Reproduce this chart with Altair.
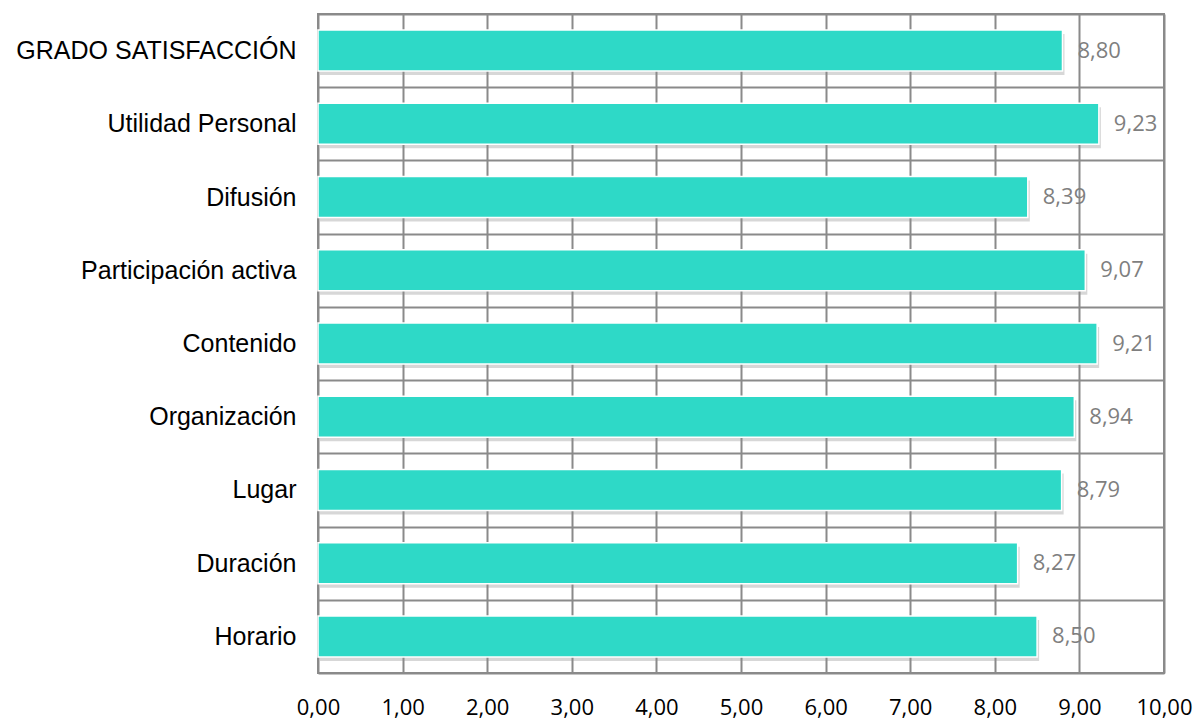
import altair as alt
import pandas as pd

categories = ["GRADO SATISFACCIÓN", "Utilidad Personal", "Difusión", "Participación activa",
              "Contenido", "Organización", "Lugar", "Duración", "Horario"]
values = [8.80, 9.23, 8.39, 9.07, 9.21, 8.94, 8.79, 8.27, 8.50]
x_ticks = [0, 1, 2, 3, 4, 5, 6, 7, 8, 9, 10]

df = pd.DataFrame({"cat": categories, "val": values})
df["lab"] = [f"{v:.2f}".replace(".", ",") for v in values]

y = alt.Y("cat:N", sort=categories, title=None,
          scale=alt.Scale(paddingInner=0, paddingOuter=0),
          axis=alt.Axis(tickBand="extent", grid=True, gridColor="#8a8a8a", gridWidth=2,
                        ticks=False, domain=False, labelFont="Liberation Sans",
                        labelFontSize=25, labelColor="#000000", labelPadding=22,
                        labelLimit=400))
x = alt.X("val:Q", title=None, scale=alt.Scale(domain=[0, 10], nice=False),
          axis=alt.Axis(values=x_ticks, grid=True, gridColor="#8a8a8a", gridWidth=2,
                        ticks=False, domain=False, labelFlush=False,
                        labelExpr="replace(format(datum.value, '.2f'), '.', ',')",
                        labelFont="Open Sans", labelFontSize=22, labelColor="#000000",
                        labelPadding=24))

base = alt.Chart(df)

shadow = base.mark_bar(height={"band": 0.56}, color="#8c8c8c", opacity=0.35,
                       yOffset=4, xOffset=2).encode(x=x, y=y)
bars = base.mark_bar(height={"band": 0.56}, color="#2ed9c7", stroke="#ffffff",
                     strokeWidth=1.5).encode(x=x, y=y)
labels = base.mark_text(align="left", baseline="middle", dx=15, font="Open Sans",
                        fontSize=22, color="#7f7f7f").encode(x=x, y=y, text="lab:N")

chart = (shadow + bars + labels).properties(
    width=846, height=659,
    autosize=alt.AutoSizeParams(type="none"),
    padding={"left": 310, "top": 6, "right": 30, "bottom": 46},
).configure_view(stroke="#8a8a8a", strokeWidth=2)

chart.save("out.html", embed_options={"renderer": "svg", "actions": False})
